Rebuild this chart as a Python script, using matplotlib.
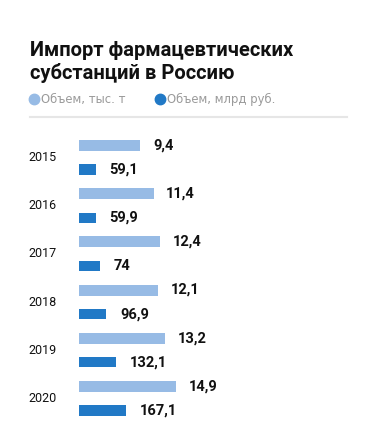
import matplotlib
matplotlib.use("Agg")
import matplotlib.pyplot as plt
from matplotlib.lines import Line2D

plt.rcParams['font.family'] = ['Roboto', 'DejaVu Sans']

years = ['2015', '2016', '2017', '2018', '2019', '2020']
volume_kt = [9.4, 11.4, 12.4, 12.1, 13.2, 14.9]
volume_bln = [59.1, 59.9, 74, 96.9, 132.1, 167.1]

light = '#97bbe5'
dark = '#2179c6'

W, H = 368, 446
fig = plt.figure(figsize=(W / 100, H / 100), dpi=100)

# title
fig.text(30 / W, 1 - 50 / H, 'Импорт фармацевтических', fontsize=14.5,
         fontweight='bold', color='#111111', va='center', ha='left')
fig.text(30 / W, 1 - 73 / H, 'субстанций в Россию', fontsize=14.5,
         fontweight='bold', color='#111111', va='center', ha='left')

# legend
fig.lines.append(Line2D([34 / W], [1 - 99 / H], marker='o', markersize=7.5,
                        color=light, transform=fig.transFigure))
fig.text(41 / W, 1 - 99 / H, 'Объем, тыс. т', fontsize=8.4, color='#9a9a9a',
         va='center', ha='left', family='DejaVu Sans')
fig.lines.append(Line2D([160 / W], [1 - 99 / H], marker='o', markersize=7.5,
                        color=dark, transform=fig.transFigure))
fig.text(167 / W, 1 - 99 / H, 'Объем, млрд руб.', fontsize=8.4, color='#9a9a9a',
         va='center', ha='left', family='DejaVu Sans')
fig.lines.append(Line2D([30 / W, 347 / W], [1 - 117 / H, 1 - 117 / H],
                        color='#e6e6e6', lw=1.5, transform=fig.transFigure))

# bars: two value series drawn on their own x scales
top_px, bot_px = 133.4, 422.6
ax = fig.add_axes([79 / W, 1 - bot_px / H, 261.6 / W, (bot_px - top_px) / H])
ax2 = ax.twiny()

pos = list(range(len(years)))
b1 = ax.barh([p - 0.25 for p in pos], volume_kt, height=0.23, color=light)
b2 = ax2.barh([p + 0.25 for p in pos], volume_bln, height=0.21, color=dark)

ax.set_xlim(0, 40)
ax2.set_xlim(0, 934)
ax.set_ylim(5.5, -0.5)
ax2.set_ylim(5.5, -0.5)

fmt = lambda v: f'{v:g}'.replace('.', ',')
ax.bar_label(b1, labels=[fmt(v) for v in volume_kt], padding=9,
             fontsize=10.5, fontweight='bold', color='#111111')
ax2.bar_label(b2, labels=[fmt(v) for v in volume_bln], padding=10,
              fontsize=10.5, fontweight='bold', color='#111111')

for a in (ax, ax2):
    a.set_xticks([])
    a.set_yticks([])
    for s in a.spines.values():
        s.set_visible(False)
    a.patch.set_visible(False)

for i, y in enumerate(years):
    ypx = top_px + (i + 0.5) * (bot_px - top_px) / 6
    fig.text(28 / W, 1 - ypx / H, y, fontsize=9, color='#111111',
             va='center', ha='left')

fig.savefig('out.png', dpi=100, facecolor='white')
